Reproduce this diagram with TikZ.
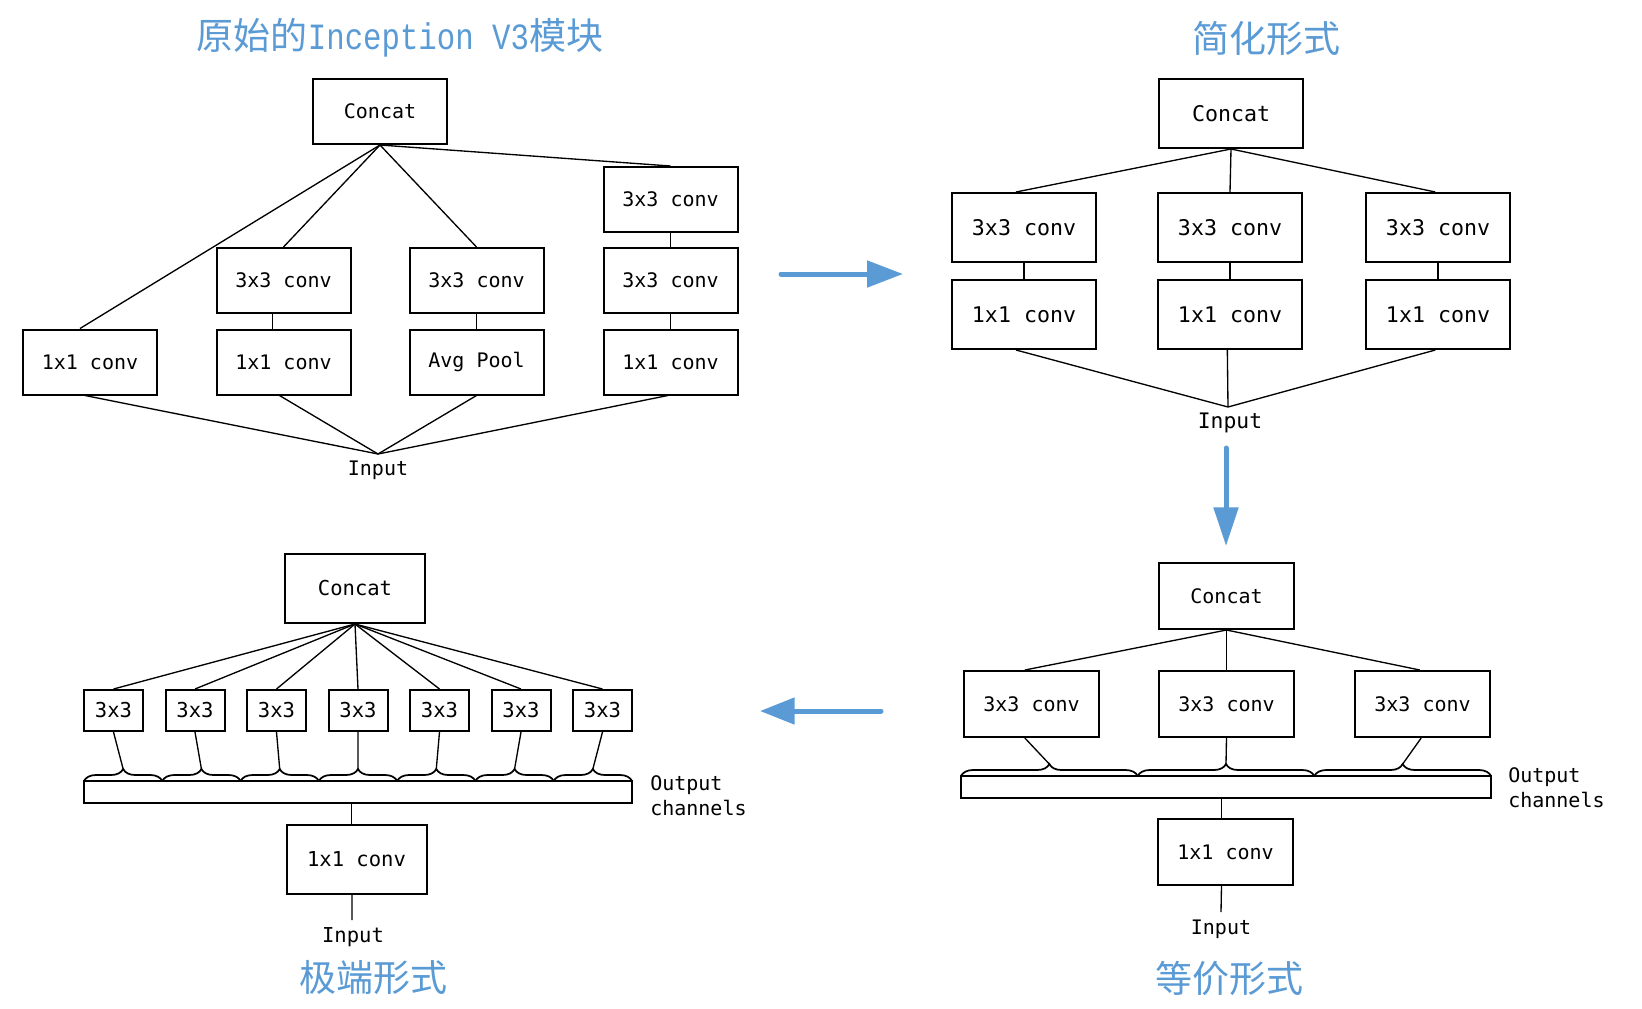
\documentclass[tikz,border=0pt]{standalone}
\usepackage{fontspec}
\usetikzlibrary{arrows.meta,decorations.pathreplacing}
\newfontfamily\boxfont{DejaVu Sans Mono}
\newfontfamily\cjkfont{Noto Sans CJK SC}
\newfontfamily\titlelat[FakeStretch=0.83]{Liberation Mono}
\definecolor{tblue}{RGB}{91,155,213}
\begin{document}
\begin{tikzpicture}[x=0.75pt,y=-0.75pt,
  box/.style={draw, line width=1.5pt, inner sep=0pt, font=\boxfont\fontsize{15}{18}\selectfont},
  tlbox/.style={box, minimum width=100.5pt, minimum height=48.75pt},
  trbox/.style={box, minimum width=108pt, minimum height=51.75pt, font=\boxfont\fontsize{16.2}{19}\selectfont},
  brbox/.style={box, minimum width=101.25pt, minimum height=49.5pt},
  blbig/.style={box, minimum width=105pt, minimum height=51.75pt, font=\boxfont\fontsize{15.4}{18}\selectfont},
  blsmall/.style={box, minimum width=44.25pt, minimum height=30.75pt, font=\boxfont\fontsize{15.4}{18}\selectfont},
  bar/.style={draw, line width=1.4pt, inner sep=0pt, minimum height=16.5pt},
  conn/.style={line width=1pt},
  brc/.style={decorate, decoration={brace, amplitude=9pt}, line width=1.3pt},
  lbl/.style={inner sep=0pt, font=\boxfont\fontsize{15}{18.75}\selectfont},
  title/.style={inner sep=0pt, text=tblue, font=\cjkfont\fontsize{27.75}{30}\selectfont},
  barrow/.style={draw=tblue, line width=3.75pt, line cap=round},
]
\fill[white] (0,0) rectangle (1642,1008);
\useasboundingbox (0,0) rectangle (1642,1008);

% ---------- top-left: original Inception V3 ----------
\node[title] (t1) at (400,38) {原始的{\titlelat Inception V3}模块};
\node[tlbox] (cA) at (380,111.5) {Concat};
\node[tlbox] (d1) at (670.5,199.5) {3x3 conv};
\node[tlbox] (b2) at (283.5,280.5) {3x3 conv};
\node[tlbox] (c2) at (476.5,280.5) {3x3 conv};
\node[tlbox] (d2) at (670.5,280.5) {3x3 conv};
\node[tlbox] (a3) at (90,362) {1x1 conv};
\node[tlbox] (b3) at (283.5,362) {1x1 conv};
\node[tlbox] (c3) at (476.5,362) {Avg Pool};
\node[tlbox] (d3) at (670.5,362) {1x1 conv};
\coordinate (ap1) at (378,454);
\node[lbl] (in1) at (378,470) {Input};
\draw[conn] (cA.south) -- ([xshift=-7.5pt]a3.north);
\draw[conn] (cA.south) -- (b2.north);
\draw[conn] (cA.south) -- (c2.north);
\draw[conn] (cA.south) -- (d1.north);
\draw[conn] ([xshift=-8.25pt]b2.south) -- ([xshift=-8.25pt]b3.north);
\draw[conn] (c2.south) -- (c3.north);
\draw[conn] (d1.south) -- (d2.north);
\draw[conn] (d2.south) -- (d3.north);
\draw[conn] ([xshift=-3.75pt]a3.south) -- (ap1);
\draw[conn] ([xshift=-3pt]b3.south) -- (ap1);
\draw[conn] (c3.south) -- (ap1);
\draw[conn] ([xshift=-2pt]d3.south) -- (ap1);

% ---------- top-right: simplified ----------
\node[title] (t2) at (1266,38) {简化形式};
\node[trbox] (cB) at (1231,113.5) {Concat};
\node[trbox] (p1) at (1024,227.5) {3x3 conv};
\node[trbox] (p2) at (1230,227.5) {3x3 conv};
\node[trbox] (p3) at (1438,227.5) {3x3 conv};
\node[trbox] (q1) at (1024,314.5) {1x1 conv};
\node[trbox] (q2) at (1230,314.5) {1x1 conv};
\node[trbox] (q3) at (1438,314.5) {1x1 conv};
\coordinate (ap2) at (1228,407);
\node[lbl, font=\boxfont\fontsize{16}{19}\selectfont] (in2) at (1230,423) {Input};
\draw[conn] (cB.south) -- ([xshift=-6pt]p1.north);
\draw[conn] (cB.south) -- (p2.north);
\draw[conn] (cB.south) -- ([xshift=-2pt]p3.north);
\foreach \k in {1,2,3} { \draw[conn] (p\k.south) -- (q\k.north); }
\draw[conn] ([xshift=-6pt]q1.south) -- (ap2);
\draw[conn] ([xshift=-2pt]q2.south) -- (ap2);
\draw[conn] ([xshift=-2pt]q3.south) -- (ap2);

% ---------- bottom-right: equivalent ----------
\node[title] (t3) at (1229,978) {等价形式};
\node[brbox] (cC) at (1226.5,596) {Concat};
\node[brbox] (e1) at (1031.5,704) {3x3 conv};
\node[brbox] (e2) at (1226.5,704) {3x3 conv};
\node[brbox] (e3) at (1422.5,704) {3x3 conv};
\node[bar, minimum width=397.5pt] (bar2) at (1226,787) {};
\draw[brc] (961,776) -- (1137.7,776);
\draw[brc] (1137.7,776) -- (1314.3,776);
\draw[brc] (1314.3,776) -- (1491,776);
\coordinate (k1) at (1049.3,764);
\coordinate (k2) at (1226,764);
\coordinate (k3) at (1402.7,764);
\draw[conn] (cC.south) -- ([xshift=-5pt]e1.north);
\draw[conn] (cC.south) -- (e2.north);
\draw[conn] (cC.south) -- ([xshift=-2pt]e3.north);
\draw[conn] ([xshift=-5pt]e1.south) -- (k1);
\draw[conn] (e2.south) -- (k2);
\draw[conn] ([xshift=-1pt]e3.south) -- (k3);
\node[brbox] (f1) at (1225.5,852) {1x1 conv};
\draw[conn] ([xshift=-3pt]f1.north) -- ([xshift=-3pt]f1.north |- bar2.south);
\coordinate (ie3) at (1221,912);
\draw[conn] ([xshift=-3pt]f1.south) -- (ie3);
\node[lbl] (in3) at (1221,929) {Input};
\node[lbl, align=left, anchor=west] (oc3) at (1508,787.5) {Output\\channels};

% ---------- bottom-left: extreme ----------
\node[title] (t4) at (373,978) {极端形式};
\node[blbig] (cD) at (355,588.5) {Concat};
\node[bar, minimum width=411pt] (bar1) at (358,792) {};
\foreach \i in {0,...,6} {
  \pgfmathsetmacro\xa{84+78.286*\i}
  \pgfmathsetmacro\xb{84+78.286*(\i+1)}
  \pgfmathsetmacro\xm{84+78.286*(\i+0.5)}
  \pgfmathsetmacro\xs{113.5+81.5*\i}
  \draw[brc] (\xa,781) -- (\xb,781);
  \coordinate (tip\i) at (\xm,769);
  \node[blsmall] (s\i) at (\xs,710.5) {3x3};
  \draw[conn] (cD.south) -- (s\i.north);
  \draw[conn] (s\i.south) -- (tip\i);
}
\node[blbig] (g1) at (356.5,859) {1x1 conv};
\draw[conn] ([xshift=-4pt]g1.north) -- ([xshift=-4pt]g1.north |- bar1.south);
\coordinate (ie4) at (352,920);
\draw[conn] ([xshift=-3.4pt]g1.south) -- (ie4);
\node[lbl, font=\boxfont\fontsize{15.4}{19}\selectfont] (in4) at (353,937) {Input};
\node[lbl, align=left, anchor=west] (oc4) at (650,795.5) {Output\\channels};

% ---------- blue arrows ----------
\coordinate (ra) at (781,274);
\coordinate (rb) at (903,274);
\draw[barrow, -{Triangle[length=27pt,width=19.5pt]}] (ra) -- (rb);
\coordinate (da) at (1226,448);
\coordinate (db) at (1226,546);
\draw[barrow, -{Triangle[length=29pt,width=18pt]}] (da) -- (db);
\coordinate (la) at (881,711);
\coordinate (lb) at (760,711);
\draw[barrow, -{Triangle[length=26pt,width=19.5pt]}] (la) -- (lb);
\end{tikzpicture}
\end{document}
